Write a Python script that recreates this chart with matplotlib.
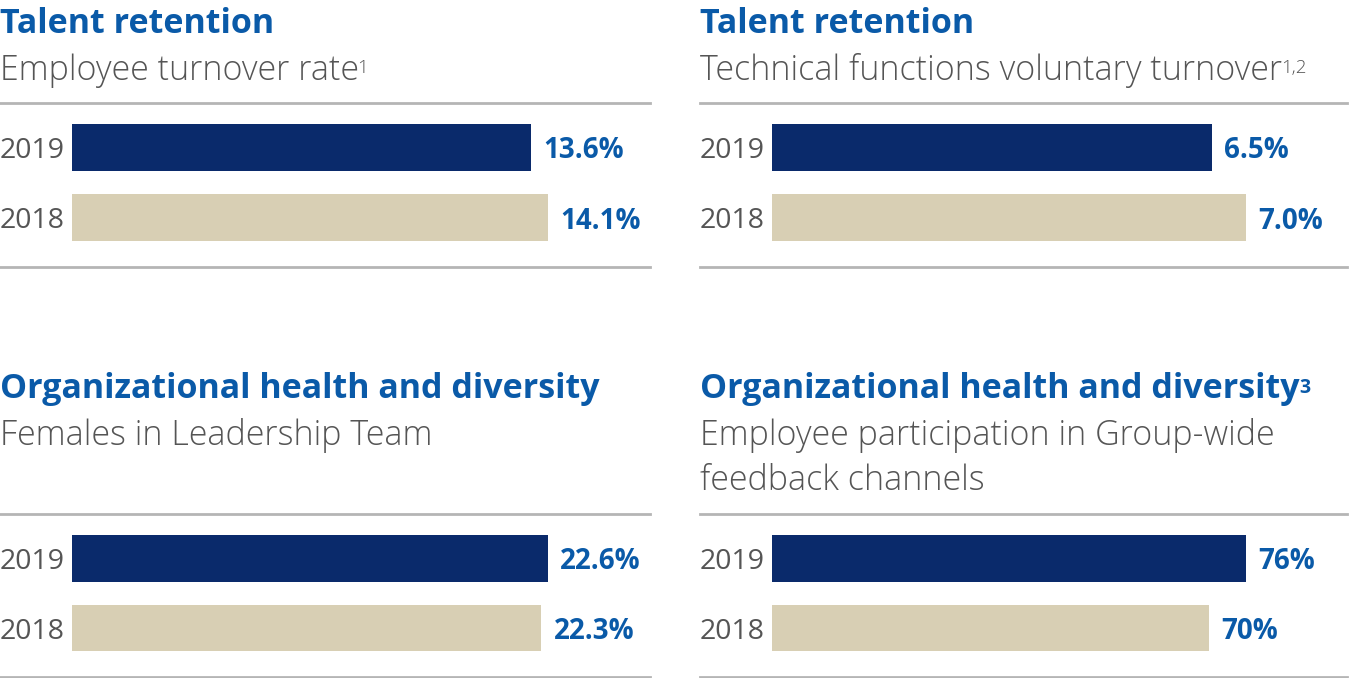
import matplotlib
matplotlib.use('Agg')
import matplotlib.pyplot as plt

plt.rcParams['font.family'] = ['Open Sans', 'DejaVu Sans']

# data
years = ['2019', '2018']

titles = ['Talent retention', 'Talent retention',
          'Organizational health and diversity', 'Organizational health and diversity']
title_notes = ['', '', '', '3']
subtitles = [['Employee turnover rate'], ['Technical functions voluntary turnover'],
             ['Females in Leadership Team'], ['Employee participation in Group-wide', 'feedback channels']]
subtitle_notes = ['1', '1,2', '', '']

values = [[13.6, 14.1], [6.5, 7.0], [22.6, 22.3], [76, 70]]
value_labels = [['13.6%', '14.1%'], ['6.5%', '7.0%'], ['22.6%', '22.3%'], ['76%', '70%']]

# value at right edge of each panel (sets the bar scale)
x_max = [17.13, 8.50, 27.46, 92.2]

# colours
NAVY = '#0a2a6b'
BEIGE = '#d8cfb4'
BLUE = '#0a5aa8'
GREY_TXT = '#555555'
RULE = '#b5b5b5'

W, H = 1349, 678
fig = plt.figure(figsize=(W / 100, H / 100), dpi=100)

# panel boxes in pixels: left, right, top rule, bottom rule, title baseline, subtitle baseline
panels = [
    (0, 650, 103, 267, 33, 80),
    (700, 1347, 103, 267, 33, 80),
    (0, 650, 514, 677, 398, 445),
    (700, 1347, 514, 677, 398, 445),
]
bar_start = 72  # px from panel left where bars begin
line_step = 45  # px between subtitle lines

for i, (l, r, t, b, tb, sb) in enumerate(panels):
    ax = fig.add_axes([l / W, 1 - b / H, (r - l) / W, (b - t) / H])
    frac = bar_start / (r - l)
    xmin = -frac / (1 - frac) * x_max[i]
    ax.set_xlim(xmin, x_max[i])
    ax.set_ylim(-0.70, 1.63)

    ypos = [1, 0]
    colors = [NAVY, BEIGE]
    ax.barh(ypos, values[i], height=0.67, color=colors, left=0)

    for y, v, lab, yr in zip(ypos, values[i], value_labels[i], years):
        ax.annotate(lab, xy=(v, y), xytext=(9, 0), textcoords='offset points',
                    ha='left', va='center_baseline', fontsize=20, fontweight='bold', color=BLUE)
        ax.text(0, y, yr, transform=ax.get_yaxis_transform(), ha='left', va='center_baseline',
                fontsize=20.5, color=GREY_TXT)

    ax.set_xticks([])
    ax.set_yticks([])
    for s in ['left', 'right']:
        ax.spines[s].set_visible(False)
    for s in ['top', 'bottom']:
        ax.spines[s].set_color(RULE)
        ax.spines[s].set_linewidth(2)
    ax.patch.set_alpha(0)

    tt = fig.text(l / W, 1 - tb / H, titles[i], ha='left', va='baseline',
                  fontsize=24.5, fontweight='bold', color=BLUE)
    if title_notes[i]:
        ax.annotate(title_notes[i], xy=(1, 1), xycoords=tt, xytext=(0, -4),
                    textcoords='offset points', ha='left', va='top',
                    fontsize=14, fontweight='bold', color=BLUE)

    st = None
    for k, line in enumerate(subtitles[i]):
        st = fig.text(l / W, 1 - (sb + k * line_step) / H, line, ha='left', va='baseline',
                      fontsize=24.5, color=GREY_TXT, fontweight='light')
    if subtitle_notes[i]:
        ax.annotate(subtitle_notes[i], xy=(1, 1), xycoords=st, xytext=(-1, -4),
                    textcoords='offset points', ha='left', va='top',
                    fontsize=13.5, color=GREY_TXT, fontweight='light')

fig.savefig('out.png', dpi=100)
